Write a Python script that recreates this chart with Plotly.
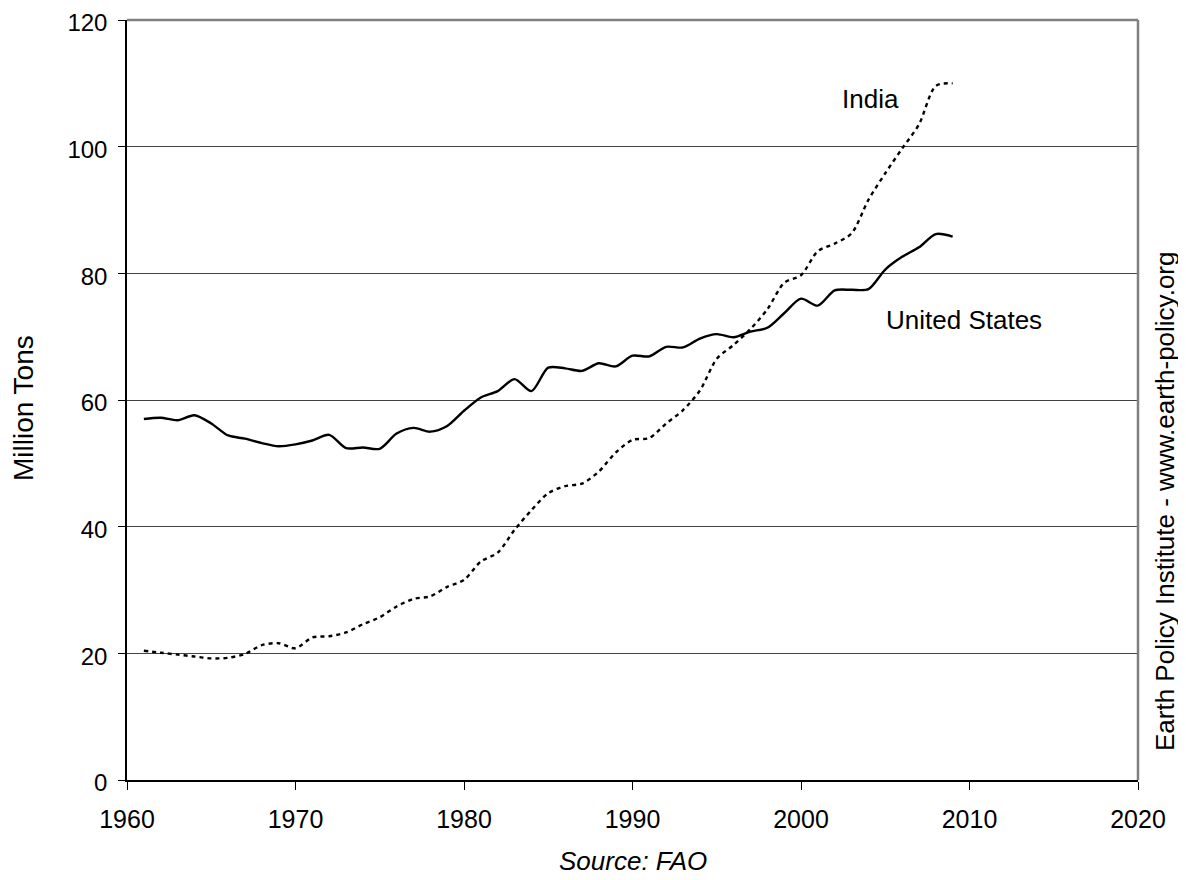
import plotly.graph_objects as go

years = list(range(1961, 2010))
us_values = [57.0, 57.2, 56.8, 57.6, 56.3, 54.4, 53.9, 53.2, 52.7, 53.0,
             53.6, 54.5, 52.4, 52.5, 52.3, 54.7, 55.6, 55.0, 55.9, 58.3,
             60.4, 61.4, 63.3, 61.4, 65.1, 65.0, 64.6, 65.8, 65.3, 67.0,
             66.9, 68.4, 68.3, 69.7, 70.4, 69.9, 70.8, 71.4, 73.7, 76.0,
             74.9, 77.3, 77.4, 77.5, 80.6, 82.6, 84.1, 86.2, 85.8]
india_values = [20.4, 20.1, 19.8, 19.5, 19.2, 19.3, 19.9, 21.3, 21.6, 20.8,
                22.5, 22.7, 23.3, 24.6, 25.7, 27.4, 28.6, 29.0, 30.5, 31.6,
                34.5, 35.9, 39.5, 42.6, 45.3, 46.4, 46.8, 48.7, 51.7, 53.7,
                54.0, 56.3, 58.4, 61.5, 66.5, 68.7, 71.2, 74.3, 78.5, 79.7,
                83.5, 84.7, 86.3, 91.6, 95.8, 99.7, 103.5, 109.6, 110.0]
x_ticks = [1960, 1970, 1980, 1990, 2000, 2010, 2020]
y_ticks = [0, 20, 40, 60, 80, 100, 120]

font = "Liberation Sans, Arial, sans-serif"

# the plotly div sits at the default 8px body margin of the page
OFF = 8
W, H = 1186 - OFF, 880 - OFF
L, T = 127 - OFF, 20 - OFF
R = W - (1138 - OFF)
B = H - (780 - OFF)

fig = go.Figure()
fig.add_trace(go.Scatter(x=years, y=us_values, mode="lines", name="United States",
                         line=dict(color="black", width=2.4, shape="spline", smoothing=0.8)))
fig.add_trace(go.Scatter(x=years, y=india_values, mode="lines", name="India",
                         line=dict(color="black", width=2.4, shape="spline", smoothing=0.8,
                                   dash="4px,4px")))

fig.update_layout(
    width=W, height=H,
    margin=dict(l=L, r=R, t=T, b=B, autoexpand=False),
    paper_bgcolor="white", plot_bgcolor="white",
    showlegend=False,
    font=dict(family=font, size=25, color="black"),
    xaxis=dict(range=[1960, 2020], tickvals=x_ticks, ticks="outside", ticklen=8,
               tickcolor="black", showgrid=False, showline=True, linecolor="black",
               linewidth=1.5, mirror=False, zeroline=False, ticklabelstandoff=8,
               ticklabeloverflow="allow", tickfont=dict(size=25, family=font)),
    yaxis=dict(range=[0, 120], tickvals=y_ticks, ticks="outside", ticklen=7,
               tickcolor="black", showgrid=True, gridcolor="#444444", gridwidth=1,
               showline=True, linecolor="black", linewidth=1.5, zeroline=False,
               ticklabelstandoff=6, ticklabelshift=3, ticklabeloverflow="allow",
               tickfont=dict(size=24, family=font)),
    shapes=[
        dict(type="line", xref="paper", yref="paper", x0=0, x1=1, y0=1, y1=1,
             line=dict(color="#808080", width=2.5)),
        dict(type="line", xref="paper", yref="paper", x0=1, x1=1, y0=0, y1=1,
             line=dict(color="#808080", width=2.5)),
    ],
    annotations=[
        dict(text="India", x=2004.1, y=107.5, xref="x", yref="y", showarrow=False,
             font=dict(size=26, family=font)),
        dict(text="United States", x=2009.7, y=72.6, xref="x", yref="y", showarrow=False,
             font=dict(size=26, family=font)),
        dict(text="Million Tons", x=23, y=408, xref="paper", yref="paper", showarrow=False,
             textangle=-90, font=dict(size=28, family=font)),
        dict(text="<i>Source: FAO</i>", x=633, y=861, xref="paper", yref="paper",
             showarrow=False, font=dict(size=26, family=font)),
        dict(text="Earth Policy Institute - www.earth-policy.org", x=1165, y=502,
             xref="paper", yref="paper", showarrow=False, textangle=-90,
             font=dict(size=26, family=font)),
    ],
)

# convert page-pixel positions of paper annotations to paper coordinates
pw = 1138 - 127
ph = 780 - 20
for a in fig.layout.annotations:
    a.xanchor = "center"
    a.yanchor = "middle"
    if a.xref == "paper":
        px, py = a.x, a.y
        a.x = (px - 127) / pw
        a.y = (780 - py) / ph

fig.write_html("out.html")
